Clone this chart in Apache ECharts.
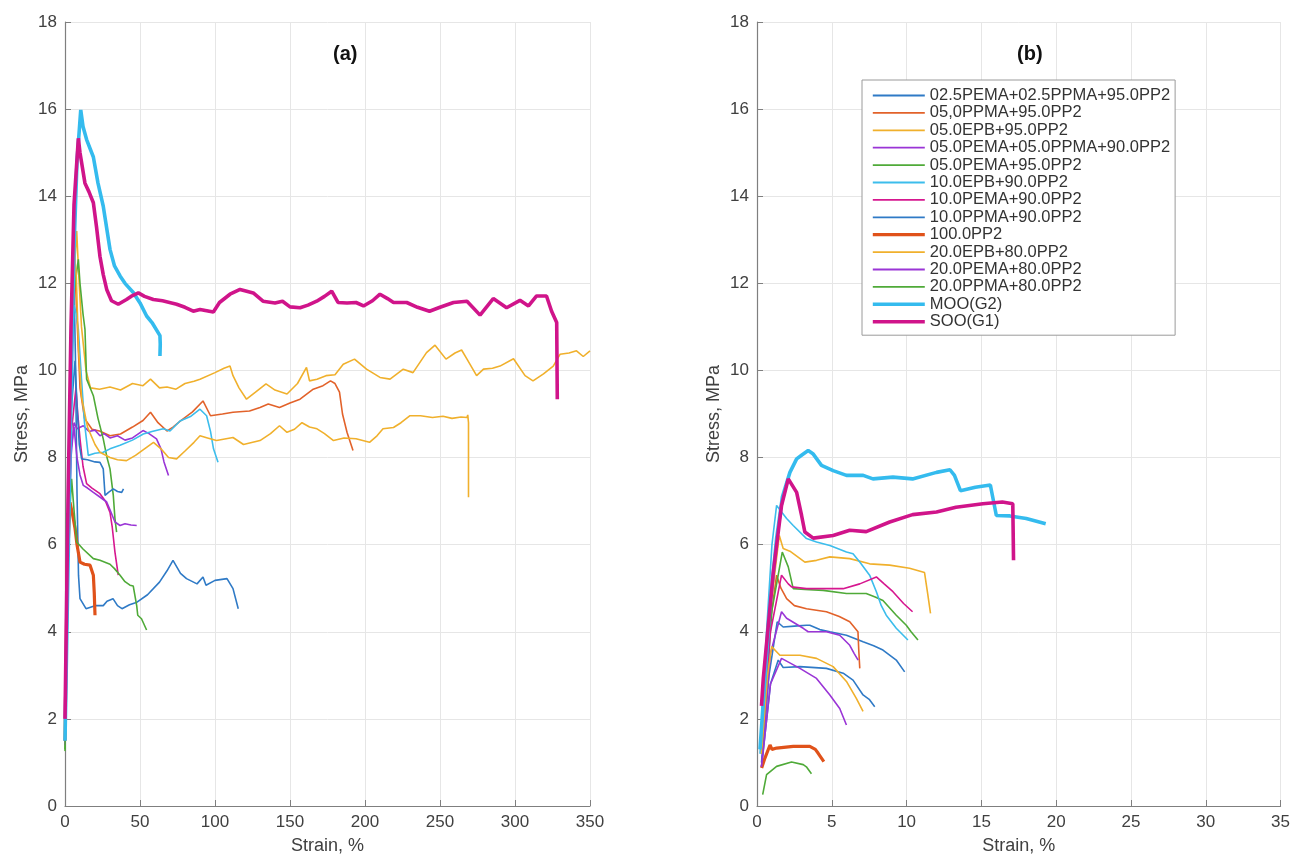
<!DOCTYPE html>
<html>
<head>
<meta charset="utf-8">
<script src="https://cdn.jsdelivr.net/npm/echarts@6/dist/echarts.min.js"></script>
<style>
  html, body { margin: 0; padding: 0; background: #fff; }
  #main { width: 1293px; height: 860px; }
</style>
</head>
<body>
<div id="main"></div>
<script>
// legend names, in the legend's order
var names = [
  "02.5PEMA+02.5PPMA+95.0PP2", "05,0PPMA+95.0PP2", "05.0EPB+95.0PP2",
  "05.0PEMA+05.0PPMA+90.0PP2", "05.0PEMA+95.0PP2", "10.0EPB+90.0PP2",
  "10.0PEMA+90.0PP2", "10.0PPMA+90.0PP2", "100.0PP2", "20.0EPB+80.0PP2",
  "20.0PEMA+80.0PP2", "20.0PPMA+80.0PP2", "MOO(G2)", "SOO(G1)"
];
var colors = [
  "#2f7ac6", "#e2622a", "#f0b02c", "#9a35d6", "#4faa38", "#3cbdec",
  "#d6178f", "#2f7ac6", "#e0521a", "#f0b02c", "#9a35d6", "#4faa38",
  "#34bbee", "#d0148a"
];
var widths = [1.6, 1.6, 1.6, 1.6, 1.6, 1.6, 1.6, 1.6, 3.2, 1.6, 1.6, 1.6, 3.6, 3.6];

var xTicksA = [0, 50, 100, 150, 200, 250, 300, 350];
var xTicksB = [0, 5, 10, 15, 20, 25, 30, 35];
var yTicks = [0, 2, 4, 6, 8, 10, 12, 14, 16, 18];

// panel (a): strain %, stress MPa
var aBlue1 = [[0,1.8],[2,6.5],[4,10.5],[6,12.05],[7,10.2],[8,7.2],[9,5.3],[10,4.76],[14,4.53],[20,4.6],[25.5,4.6],[28,4.7],[32,4.76],[35,4.6],[38,4.53],[43,4.62],[48,4.68],[55,4.85],[63,5.14],[68,5.4],[72,5.64],[77,5.34],[81,5.22],[88,5.1],[92,5.26],[94,5.07],[100,5.18],[108,5.22],[112,4.99],[115.5,4.53]];
var aOrange = [[0,1.8],[2,6.5],[4,10.6],[6.5,12.4],[8,11.2],[10,9.6],[13,8.9],[18,8.65],[23,8.61],[30,8.5],[37,8.54],[45,8.7],[52,8.85],[57,9.04],[62,8.8],[68,8.61],[72,8.7],[77,8.84],[85,9.05],[92,9.3],[97,8.96],[105,9.0],[112,9.04],[123,9.07],[130,9.15],[135.5,9.23],[143,9.15],[150,9.25],[156.7,9.34],[165.5,9.57],[172,9.65],[177,9.76],[180,9.7],[183,9.5],[185,9.0],[188,8.58],[192,8.16]];
var aYellow1 = [[0,2],[2,7],[4,11],[7.8,13.2],[9,12.3],[11,11],[14,10],[17,9.6],[23,9.57],[30,9.62],[37,9.55],[45,9.7],[52,9.65],[57,9.8],[63,9.6],[68,9.62],[74,9.57],[80,9.7],[86,9.75],[90,9.8],[100,9.95],[106,10.05],[110,10.1],[112,9.88],[116,9.6],[121,9.34],[127,9.5],[134,9.69],[140,9.55],[148,9.46],[155,9.7],[161,10.07],[163,9.76],[168,9.8],[174,9.88],[180,9.9],[185.5,10.14],[193,10.26],[201,10.03],[210,9.84],[216.7,9.8],[225.5,10.03],[232,9.95],[241,10.41],[246.7,10.58],[254,10.26],[260,10.4],[264.4,10.47],[268,10.26],[274.4,9.88],[279,10.03],[285,10.05],[290,10.1],[299,10.27],[306.7,9.88],[312,9.76],[319,9.92],[325.5,10.1],[330,10.37],[336,10.4],[341,10.45],[345.5,10.32],[350,10.45]];
var aPurple1 = [[0,1.5],[2,5.5],[4,8.0],[6,8.8],[8,8.66],[12.2,8.73],[16,8.6],[20,8.63],[23.3,8.5],[26,8.55],[30,8.45],[35,8.5],[40,8.4],[45,8.45],[52,8.62],[56,8.55],[61,8.43],[64,8.2],[66,7.9],[69,7.59]];
var aGreen1 = [[0,1.3],[2,5.5],[4,9.5],[6,11.8],[8.9,12.55],[10,12.0],[12,11.3],[13.3,10.95],[14.4,9.8],[18.9,9.42],[22,8.9],[25.5,8.43],[28,8.0],[30,7.74],[32.2,7.13],[33.3,6.6],[34.4,6.29]];
var aLightBlue = [[0,1.8],[2,6.5],[4,10],[6,11.5],[7.5,11.3],[8.9,10.95],[11,9.8],[13,8.8],[15.5,8.05],[20,8.1],[25.5,8.12],[30,8.2],[36.7,8.28],[45,8.4],[52.2,8.54],[58,8.6],[65.5,8.66],[70,8.61],[76.7,8.84],[84,8.95],[90,9.11],[94.4,8.96],[97,8.6],[99,8.2],[102,7.89]];
var aMagenta = [[0,1.7],[2,5.5],[4,8.5],[7.3,9.6],[8.5,9.0],[10,8.43],[12,7.8],[14.4,7.4],[18,7.3],[23.3,7.17],[27,7.0],[30,6.74],[31.5,6.4],[33.3,5.83],[35.5,5.3]];
var aBlue2 = [[0,1.6],[2,6.0],[4,9.0],[6.7,10.22],[8,9.2],[9.5,8.3],[11.1,7.97],[15,7.95],[20,7.9],[23.3,7.89],[25.5,7.74],[26.7,7.13],[29,7.2],[32.2,7.28],[35,7.22],[37.8,7.2],[39,7.28]];
var aPP = [[0,1.5],[1.5,5.5],[3.3,6.97],[5,6.7],[6.7,6.37],[8,6.0],[10,5.6],[13,5.55],[16.7,5.53],[18.9,5.3],[19.5,4.9],[20,4.38]];
var aYellow2 = [[0,1.6],[2,6.2],[4,10.5],[6,12.8],[7.5,12.2],[9,10.5],[11,9.4],[15,8.7],[20,8.3],[23.3,8.12],[30,8.0],[35,7.95],[41,7.93],[47,8.05],[53,8.2],[59,8.35],[64,8.2],[69,8.0],[74.4,7.97],[80,8.15],[86,8.35],[90,8.5],[95,8.45],[101,8.39],[112,8.46],[119,8.3],[130,8.39],[137,8.55],[143,8.73],[148,8.58],[153,8.65],[158,8.8],[163,8.7],[168,8.66],[173,8.55],[179,8.39],[186,8.45],[194,8.43],[203,8.35],[208,8.5],[212,8.66],[219,8.69],[224,8.8],[230,8.96],[237,8.96],[245,8.92],[252,8.95],[258,8.9],[264,8.93],[268,8.92],[268.5,8.98],[269,8.8],[269,7.09]];
var aPurple2 = [[0,1.4],[2,5.5],[4,8.2],[6,8.7],[8,8.0],[10,7.6],[12.2,7.36],[15,7.3],[18.9,7.2],[23,7.1],[27.8,6.98],[30,6.8],[33.3,6.52],[36.7,6.44],[40,6.48],[44,6.45],[47.8,6.44]];
var aGreen2 = [[0,1.26],[0.5,2.47],[2,6.0],[4.4,7.51],[6,6.8],[7.8,6.06],[12,5.9],[18.9,5.68],[23.3,5.64],[30,5.55],[33,5.45],[36.7,5.3],[40,5.15],[43.3,5.07],[45.5,5.05],[47.8,4.6],[48.5,4.38],[51,4.3],[54.4,4.04]];
var aMOO = [[0,1.5],[2,5.5],[4,9.5],[6,12.8],[8,14.8],[10.5,15.98],[12,15.6],[14.4,15.3],[18.9,14.9],[22,14.3],[25.5,13.77],[30,12.78],[33,12.4],[36.7,12.17],[40,12.0],[45.5,11.79],[50,11.55],[54.4,11.25],[58,11.1],[63.3,10.8],[63.5,10.6],[63.3,10.33]];
var aSOO = [[0,2.0],[2,7.0],[4,11.0],[6,13.8],[8.9,15.33],[10,15.0],[13.3,14.3],[16,14.1],[18.9,13.85],[21,13.3],[23.3,12.62],[25.5,12.2],[27.8,11.86],[31,11.6],[35.5,11.52],[41,11.63],[44,11.7],[48.9,11.78],[53,11.7],[58.9,11.63],[65,11.6],[74.4,11.52],[80,11.45],[85.5,11.36],[90,11.4],[98.9,11.34],[103,11.56],[110,11.75],[116.7,11.86],[125.5,11.78],[132,11.59],[140,11.55],[145,11.59],[150,11.46],[156.7,11.44],[162,11.5],[167.8,11.59],[173,11.7],[177.8,11.82],[182,11.56],[188,11.55],[194,11.56],[199,11.48],[205,11.6],[210,11.75],[215,11.65],[219,11.56],[227.8,11.56],[235,11.45],[243,11.36],[250,11.45],[259,11.56],[268,11.59],[276.7,11.27],[285.5,11.65],[294.4,11.44],[303.3,11.61],[309,11.48],[314.4,11.71],[321,11.71],[324.4,11.36],[327.8,11.1],[328.2,9.34]];

// panel (b)
var bBlue1 = [[0.3,1.0],[0.8,3.0],[1.35,4.23],[1.75,4.11],[2.5,4.13],[3.31,4.15],[3.53,4.15],[4.2,4.05],[4.87,4.0],[5.98,3.92],[7.09,3.77],[7.8,3.68],[8.42,3.58],[9.31,3.35],[9.87,3.08]];
var bOrange = [[0.3,1.2],[0.8,4.0],[1.31,5.3],[1.6,5.0],[1.98,4.76],[2.5,4.6],[3.31,4.53],[4.64,4.46],[5.5,4.35],[6.2,4.23],[6.75,4.0],[6.8,3.6],[6.87,3.16]];
var bYellow1 = [[0.3,1.3],[0.9,4.5],[1.49,6.21],[1.75,5.91],[2.2,5.85],[3.2,5.6],[3.98,5.64],[4.87,5.72],[6.2,5.68],[7.53,5.56],[8.87,5.53],[10.2,5.46],[11.2,5.36],[11.4,4.9],[11.6,4.42]];
var bPurple1 = [[0.3,0.9],[0.9,3.5],[1.64,4.46],[1.98,4.31],[3.09,4.08],[3.42,4.0],[4.64,4.0],[5.53,3.92],[6.2,3.69],[6.5,3.5],[6.76,3.35]];
var bGreen1 = [[0.3,1.2],[1.0,4.5],[1.69,5.83],[2.09,5.49],[2.42,4.99],[3.2,4.97],[4.42,4.95],[5.98,4.88],[7.3,4.88],[7.9,4.8],[8.42,4.72],[9.31,4.38],[9.98,4.15],[10.3,4.0],[10.76,3.81]];
var bLightBlue = [[0.2,1.2],[0.6,3.8],[1.0,6.0],[1.31,6.9],[1.98,6.6],[2.42,6.44],[3.31,6.14],[3.98,6.06],[4.87,5.98],[5.98,5.83],[6.42,5.79],[6.87,5.6],[7.53,5.3],[7.98,4.92],[8.31,4.6],[8.64,4.38],[9.31,4.08],[10.09,3.81]];
var bMagenta = [[0.3,1.3],[0.9,4.0],[1.64,5.3],[2.09,5.1],[2.31,5.03],[3.31,4.99],[3.98,4.99],[5.76,4.99],[6.87,5.1],[7.98,5.26],[8.5,5.1],[9.09,4.92],[9.8,4.65],[10.4,4.46]];
var bBlue2 = [[0.3,0.9],[0.9,2.8],[1.42,3.35],[1.75,3.18],[2.87,3.2],[4.64,3.16],[5.76,3.05],[6.42,2.89],[7.09,2.55],[7.5,2.45],[7.87,2.28]];
var bPP = [[0.31,0.87],[0.53,1.1],[0.87,1.4],[1.0,1.3],[1.31,1.33],[2.42,1.37],[3.53,1.37],[3.9,1.3],[4.09,1.21],[4.47,1.02]];
var bYellow2 = [[0.3,1.2],[0.7,3.0],[0.98,3.66],[1.53,3.46],[2.87,3.46],[3.98,3.39],[5.09,3.2],[5.98,2.86],[6.64,2.47],[7.09,2.17]];
var bPurple2 = [[0.3,0.9],[0.9,2.8],[1.64,3.39],[2.87,3.16],[3.98,2.93],[4.87,2.55],[5.53,2.24],[5.98,1.86]];
var bGreen2 = [[0.38,0.26],[0.64,0.72],[1.31,0.91],[2.31,1.01],[3.09,0.95],[3.3,0.9],[3.64,0.74]];
var bMOO = [[0.2,1.3],[0.53,2.93],[0.87,4.6],[1.31,6.14],[1.7,7.1],[2.2,7.66],[2.65,7.97],[3.0,8.06],[3.42,8.16],[3.76,8.08],[4.31,7.82],[5.09,7.7],[5.98,7.59],[7.1,7.59],[7.75,7.51],[9.09,7.55],[10.4,7.51],[12,7.66],[12.9,7.72],[13.2,7.59],[13.6,7.24],[14.6,7.32],[15.6,7.37],[16,6.67],[16.9,6.66],[18,6.6],[19.3,6.48]];
var bSOO = [[0.3,2.3],[0.42,2.93],[1.09,5.37],[1.64,6.9],[2.09,7.51],[2.65,7.2],[2.98,6.67],[3.2,6.29],[3.76,6.15],[5.09,6.21],[6.2,6.33],[7.3,6.3],[8.87,6.52],[10.4,6.69],[12,6.75],[13.3,6.86],[15.1,6.94],[16.4,6.98],[17.1,6.94],[17.15,5.64]];

var dataA = [aBlue1, aOrange, aYellow1, aPurple1, aGreen1, aLightBlue, aMagenta, aBlue2, aPP, aYellow2, aPurple2, aGreen2, aMOO, aSOO];
var dataB = [bBlue1, bOrange, bYellow1, bPurple1, bGreen1, bLightBlue, bMagenta, bBlue2, bPP, bYellow2, bPurple2, bGreen2, bMOO, bSOO];

var chart = echarts.init(document.getElementById("main"));

var txt = "#404040";
var font = "Liberation Sans, Arial, sans-serif";

function xAxisFor(idx, ticks) {
  return {
    type: "value", gridIndex: idx,
    min: ticks[0], max: ticks[ticks.length - 1], interval: ticks[1] - ticks[0],
    name: "Strain, %", nameLocation: "middle", nameGap: 31,
    nameTextStyle: { fontSize: 18, color: txt, fontFamily: font },
    axisLine: { onZero: false, lineStyle: { color: "#7f7f7f", width: 1.2 } },
    axisTick: { inside: true, length: 6, lineStyle: { color: "#7f7f7f" } },
    axisLabel: { fontSize: 17, color: txt, fontFamily: font, margin: 8 },
    splitLine: { show: true, lineStyle: { color: "#e6e6e6", width: 1 } }
  };
}
function yAxisFor(idx) {
  return {
    type: "value", gridIndex: idx, min: yTicks[0], max: yTicks[yTicks.length - 1], interval: 2,
    name: "Stress, MPa", nameLocation: "middle", nameGap: 34,
    nameTextStyle: { fontSize: 18, color: txt, fontFamily: font },
    axisLine: { show: true, onZero: false, lineStyle: { color: "#7f7f7f", width: 1.2 } },
    axisTick: { show: true, inside: true, length: 6, lineStyle: { color: "#7f7f7f" } },
    axisLabel: { fontSize: 17, color: txt, fontFamily: font, margin: 8 },
    splitLine: { show: true, lineStyle: { color: "#e6e6e6", width: 1 } }
  };
}

var series = [];
[dataA, dataB].forEach(function (set, p) {
  set.forEach(function (d, i) {
    series.push({
      name: names[i], type: "line",
      xAxisIndex: p, yAxisIndex: p,
      data: d, symbol: "none", smooth: false,
      lineStyle: { color: colors[i], width: widths[i] },
      itemStyle: { color: colors[i] },
      emphasis: { disabled: true },
      silent: true, animation: false
    });
  });
});

var legendData = names.map(function (n, i) {
  return { name: n, lineStyle: { width: widths[i] > 2 ? widths[i] : 1.8 } };
});

chart.setOption({
  backgroundColor: "#fff",
  animation: false,
  title: [
    { text: "(a)", left: 328, top: 39, textStyle: { fontSize: 20, fontWeight: "bold", color: "#111", fontFamily: font } },
    { text: "(b)", left: 1012, top: 39, textStyle: { fontSize: 20, fontWeight: "bold", color: "#111", fontFamily: font } }
  ],
  grid: [
    { left: 65, right: 703, top: 22, bottom: 52 },
    { left: 757, right: 11, top: 22, bottom: 52 }
  ],
  xAxis: [xAxisFor(0, xTicksA), xAxisFor(1, xTicksB)],
  yAxis: [yAxisFor(0), yAxisFor(1)],
  legend: {
    data: legendData, orient: "vertical", left: 862, top: 80,
    backgroundColor: "#fff", borderColor: "#9a9a9a", borderWidth: 1,
    padding: [7, 5, 5, 9],
    itemWidth: 52, itemHeight: 14, itemGap: 0.4,
    itemStyle: { opacity: 0 },
    selectedMode: false,
    textStyle: { fontSize: 16.5, lineHeight: 14, color: "#333", fontFamily: font }
  },
  series: series
});
</script>
</body>
</html>
